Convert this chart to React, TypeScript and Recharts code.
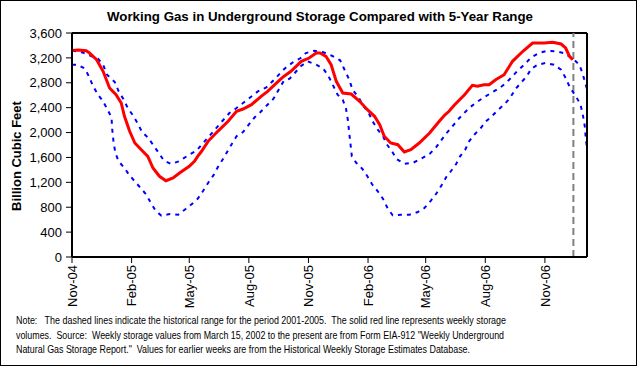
import React from "react";
import { LineChart, Line, XAxis, YAxis, ReferenceLine } from "recharts";

// days since Nov 1, 2004
const storageDays = [0, 10, 22, 27, 38, 48, 58, 68, 76, 81, 89, 97, 107, 117, 125, 135, 145, 156, 166, 181, 189, 194, 200, 210, 225, 241, 254, 264, 277, 292, 302, 313, 325, 338, 354, 366, 377, 383, 392, 400, 408, 418, 431, 444, 456, 467, 475, 482, 492, 503, 513, 523, 536, 552, 567, 575, 582, 590, 606, 618, 626, 636, 644, 654, 667, 680, 696, 711, 729, 742, 755, 762, 768, 773];
const storageValues = [3320, 3325, 3315, 3278, 3171, 2984, 2716, 2608, 2475, 2261, 2020, 1832, 1724, 1618, 1430, 1297, 1226, 1270, 1350, 1457, 1538, 1618, 1699, 1859, 2020, 2181, 2342, 2378, 2448, 2582, 2662, 2769, 2888, 2984, 3145, 3198, 3278, 3278, 3225, 3090, 2823, 2636, 2619, 2502, 2367, 2261, 2126, 1940, 1832, 1805, 1687, 1724, 1832, 1993, 2181, 2277, 2342, 2438, 2608, 2759, 2743, 2769, 2769, 2849, 2930, 3145, 3306, 3439, 3439, 3450, 3423, 3359, 3225, 3171];

const maxDays = [0, 14, 27, 40, 48, 54, 66, 72, 80, 86, 94, 102, 108, 117, 125, 133, 142, 153, 165, 177, 192, 207, 225, 243, 254, 274, 287, 300, 312, 328, 341, 353, 361, 374, 387, 401, 414, 420, 428, 433, 443, 449, 458, 464, 472, 480, 487, 494, 501, 513, 526, 539, 552, 562, 577, 585, 598, 613, 621, 634, 647, 660, 670, 680, 687, 698, 709, 721, 734, 747, 759, 768, 775, 783, 788, 793, 795];
const maxValues = [3315, 3294, 3241, 3187, 3090, 2930, 2812, 2662, 2528, 2394, 2277, 2137, 2009, 1924, 1805, 1687, 1548, 1495, 1538, 1618, 1708, 1885, 2100, 2314, 2394, 2555, 2662, 2727, 2849, 3026, 3129, 3198, 3278, 3315, 3294, 3235, 3161, 3026, 2849, 2689, 2555, 2438, 2314, 2181, 2046, 1940, 1795, 1699, 1575, 1499, 1511, 1580, 1655, 1763, 1977, 2073, 2234, 2394, 2459, 2555, 2636, 2716, 2796, 2904, 2984, 3090, 3209, 3278, 3315, 3306, 3278, 3225, 3171, 3090, 2957, 2769, 2700];

const minDays = [0, 9, 20, 26, 32, 40, 48, 54, 61, 62, 64, 67, 72, 81, 88, 96, 105, 114, 121, 129, 138, 151, 164, 176, 187, 194, 202, 211, 219, 225, 234, 246, 254, 264, 272, 282, 291, 301, 311, 319, 327, 336, 353, 364, 377, 388, 396, 403, 410, 418, 423, 426, 428, 430, 432, 439, 448, 456, 463, 472, 480, 487, 495, 508, 521, 533, 544, 554, 563, 571, 578, 584, 593, 599, 607, 613, 621, 631, 639, 648, 658, 668, 676, 685, 694, 702, 709, 719, 731, 744, 755, 762, 769, 778, 785, 789, 792, 793, 795];
const minValues = [3090, 3090, 3026, 2904, 2759, 2608, 2502, 2383, 2245, 2062, 1859, 1671, 1538, 1430, 1323, 1226, 1120, 1012, 884, 744, 664, 691, 680, 776, 868, 935, 1056, 1205, 1323, 1441, 1591, 1805, 1940, 2009, 2116, 2245, 2330, 2438, 2544, 2689, 2833, 2865, 3065, 3145, 3090, 3026, 2904, 2759, 2608, 2528, 2383, 2190, 1993, 1805, 1618, 1511, 1419, 1297, 1173, 1056, 937, 787, 670, 680, 680, 718, 787, 905, 1028, 1162, 1290, 1366, 1495, 1618, 1724, 1859, 1965, 2073, 2181, 2261, 2367, 2459, 2555, 2705, 2812, 2904, 3026, 3090, 3118, 3090, 3010, 2877, 2716, 2582, 2448, 2261, 2073, 1912, 1750];

const tickDays = [0, 92, 181, 273, 365, 457, 546, 638, 730];
const tickLabels = ["Nov-04", "Feb-05", "May-05", "Aug-05", "Nov-05", "Feb-06", "May-06", "Aug-06", "Nov-06"];
const yTicks = [0, 400, 800, 1200, 1600, 2000, 2400, 2800, 3200, 3600];
const latestWeekDay = 774;

const titleText = "Working Gas in Underground Storage Compared with 5-Year Range";
const yLabelText = "Billion Cubic Feet";
const noteLines = [
  "Note:   The dashed lines indicate the historical range for the period 2001-2005.  The solid red line represents weekly storage",
  "volumes.  Source:  Weekly storage values from March 15, 2002 to the present are from Form EIA-912 \"Weekly Underground",
  "Natural Gas Storage Report.\"  Values for earlier weeks are from the Historical Weekly Storage Estimates Database.",
];

const toRows = (days: number[], vals: number[]) => days.map((d, i) => ({ day: d, value: vals[i] }));
const storageData = toRows(storageDays, storageValues);
const maxData = toRows(maxDays, maxValues);
const minData = toRows(minDays, minValues);

const FONT = "'Liberation Sans', Arial, sans-serif";

const XTick = (props: any) => {
  const { x, y, payload } = props;
  const idx = tickDays.indexOf(payload.value);
  return (
    <text
      x={x}
      y={y}
      transform={`rotate(-90, ${x}, ${y})`}
      textAnchor="end"
      dy="0.36em"
      fontSize={13}
      fontFamily={FONT}
      fill="#000"
    >
      {idx >= 0 ? tickLabels[idx] : ""}
    </text>
  );
};

const fmt = (v: number) => v.toLocaleString("en-US");

export default function App() {
  return (
    <div style={{ position: "absolute", left: 0, top: 0, width: 637, height: 366, background: "#fff" }}>
      <LineChart width={637} height={366} data={storageData} margin={{ top: 33, right: 0, left: 0, bottom: 59 }}>
        <XAxis
          dataKey="day"
          type="number"
          domain={[0, 795]}
          ticks={tickDays}
          allowDataOverflow
          height={50}
          tick={<XTick />}
          tickSize={6}
          tickMargin={2}
          axisLine={{ stroke: "#000", strokeWidth: 2 }}
          tickLine={{ stroke: "#000" }}
          interval={0}
        />
        <YAxis
          yAxisId="left"
          orientation="left"
          width={72}
          domain={[0, 3600]}
          ticks={yTicks}
          tickFormatter={fmt}
          tickSize={6}
          tickMargin={4}
          interval={0}
          tick={{ fontSize: 13, fill: "#000", fontFamily: FONT }}
          axisLine={{ stroke: "#000", strokeWidth: 2 }}
          tickLine={{ stroke: "#000" }}
        />
        <YAxis
          yAxisId="right"
          orientation="right"
          width={50}
          domain={[0, 3600]}
          ticks={yTicks}
          tickFormatter={fmt}
          tickSize={6}
          tickMargin={4}
          interval={0}
          tick={{ fontSize: 13, fill: "#000", fontFamily: FONT, textAnchor: "start" }}
          axisLine={{ stroke: "#000", strokeWidth: 2 }}
          tickLine={{ stroke: "#000" }}
        />
        <ReferenceLine yAxisId="left" y={3600} stroke="#000" strokeWidth={2} />
        <ReferenceLine yAxisId="left" x={latestWeekDay} stroke="#808080" strokeWidth={2} strokeDasharray="7 4" />
        <Line
          yAxisId="left"
          data={maxData}
          dataKey="value"
          type="linear"
          stroke="#0000FF"
          strokeWidth={2}
          strokeDasharray="4 5"
          dot={false}
          isAnimationActive={false}
        />
        <Line
          yAxisId="left"
          data={minData}
          dataKey="value"
          type="linear"
          stroke="#0000FF"
          strokeWidth={2}
          strokeDasharray="4 5"
          dot={false}
          isAnimationActive={false}
        />
        <Line
          yAxisId="left"
          data={storageData}
          dataKey="value"
          type="linear"
          stroke="#FF0000"
          strokeWidth={3}
          dot={false}
          isAnimationActive={false}
        />
      </LineChart>
      <svg
        width={637}
        height={366}
        style={{ position: "absolute", left: 0, top: 0, pointerEvents: "none" }}
      >
        <rect x={0.5} y={0.5} width={636} height={365} fill="none" stroke="#000" strokeWidth={1} />
        <text
          x={107}
          y={21}
          fontSize={13}
          fontWeight="bold"
          fontFamily={FONT}
          textLength={426}
          lengthAdjust="spacingAndGlyphs"
          fill="#000"
        >
          {titleText}
        </text>
        <text
          x={21}
          y={156}
          transform="rotate(-90, 21, 156)"
          textAnchor="middle"
          fontSize={13}
          fontWeight="bold"
          fontFamily={FONT}
          fill="#000"
        >
          {yLabelText}
        </text>
        {noteLines.map((line, i) => (
          <text
            key={i}
            x={16}
            y={324 + i * 14.7}
            fontSize={11}
            fontFamily={FONT}
            textLength={[490, 488, 454][i]}
            lengthAdjust="spacingAndGlyphs"
            fill="#000"
            style={{ whiteSpace: "pre" }}
          >
            {line}
          </text>
        ))}
      </svg>
    </div>
  );
}
